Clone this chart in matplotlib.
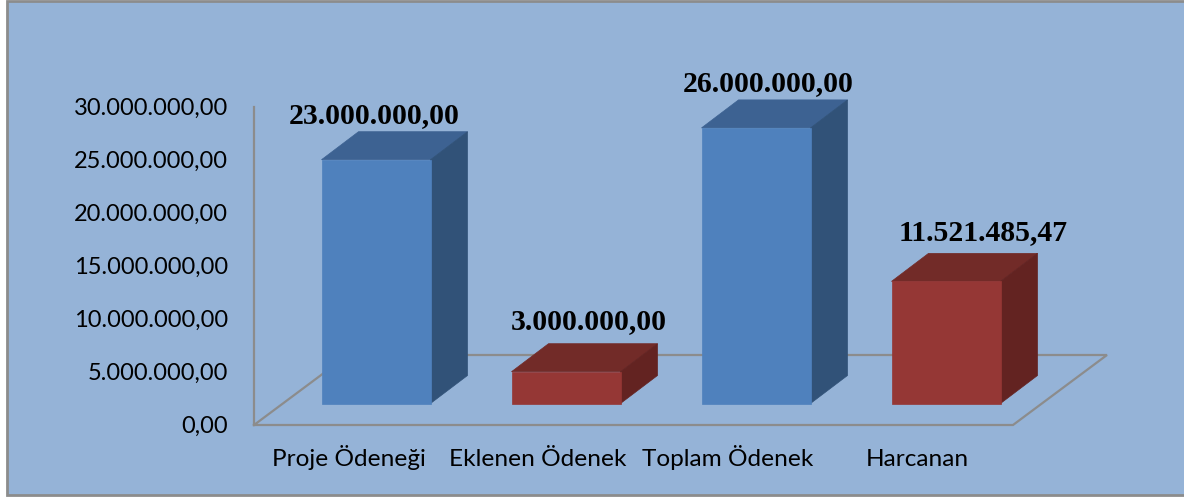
import matplotlib
matplotlib.use('Agg')
import matplotlib.pyplot as plt
from matplotlib.patches import Polygon, Rectangle

# Data
categories = ['Proje Ödeneği', 'Eklenen Ödenek', 'Toplam Ödenek', 'Harcanan']
values = [23000000.00, 3000000.00, 26000000.00, 11521485.47]
value_labels = ['23.000.000,00', '3.000.000,00', '26.000.000,00', '11.521.485,47']
y_ticks = [0, 5000000, 10000000, 15000000, 20000000, 25000000, 30000000]
y_tick_labels = ['0,00', '5.000.000,00', '10.000.000,00', '15.000.000,00',
                 '20.000.000,00', '25.000.000,00', '30.000.000,00']

# Colours
background = '#95B3D7'
axis_grey = '#8C8C8C'
blue = ('#4F81BD', '#3D6292', '#315278')
red = ('#953735', '#722B28', '#632321')
bar_colors = [blue, red, blue, red]

# Pixel layout of the figure
W, H = 1184, 497
y0_px, y30_px = 425, 107
x0_px, step_px = 376, 190
yk = 30000000 / (y0_px - y30_px)  # value per pixel
xk = 1 / step_px

fig = plt.figure(figsize=(W / 100, H / 100), dpi=100, facecolor='white')
ax = fig.add_axes([0, 0, 1, 1])
ax.set_xlim(-x0_px * xk, (W - x0_px) * xk)
ax.set_ylim(-(H - y0_px) * yk, y0_px * yk)
ax.axis('off')

dx_px = lambda p: p * xk
dy_px = lambda p: p * yk

# Chart area with its grey frame (right edge runs off the picture)
left, right = dx_px(6.5 - x0_px), dx_px(1187 - x0_px)
bottom, top = dy_px(y0_px - 494.5), dy_px(y0_px - 1)
ax.add_patch(Rectangle((left, bottom), right - left, top - bottom, facecolor=background,
                       edgecolor=axis_grey, linewidth=2, zorder=0))

# Floor and value axis
fl = dx_px(254 - x0_px)
fr = dx_px(1013 - x0_px)
floor_dx, floor_dy = dx_px(94), dy_px(70)
ax.plot([fl, fl + floor_dx, fr + floor_dx, fr, fl], [0, floor_dy, floor_dy, 0, 0],
        color=axis_grey, lw=1.6, zorder=1, solid_joinstyle='miter')
ax.plot([fl, fl], [0, 30000000], color=axis_grey, lw=1.6, zorder=1)

# 3D bars
half = dx_px(54.5)
base = dy_px(21.5)
depth_x, depth_y = dx_px(37), dy_px(28)
label_x = [374, 589, 768.5, 983]
label_base = [123, 329, 91, 240]
for i, v in enumerate(values):
    front, upper, side = bar_colors[i]
    x1, x2 = i - half, i + half
    y1, y2 = base, base + v
    ax.add_patch(Polygon([(x1, y2), (x2, y2), (x2 + depth_x, y2 + depth_y), (x1 + depth_x, y2 + depth_y)],
                         facecolor=upper, edgecolor=upper, lw=0.5, zorder=3))
    ax.add_patch(Polygon([(x2, y1), (x2 + depth_x, y1 + depth_y), (x2 + depth_x, y2 + depth_y), (x2, y2)],
                         facecolor=side, edgecolor=side, lw=0.5, zorder=3))
    ax.add_patch(Rectangle((x1, y1), x2 - x1, v, facecolor=front, edgecolor=front, lw=0.5, zorder=4))
    ax.text(dx_px(label_x[i] - x0_px), dy_px(y0_px - label_base[i]), value_labels[i], ha='center', va='baseline',
            family='Liberation Serif', weight='bold', fontsize=21.4, color='black', zorder=5)

# Tick labels
for t, lab in zip(y_ticks, y_tick_labels):
    ax.text(dx_px(228 - x0_px), t - dy_px(8), lab, ha='right', va='baseline', family='Lato', fontsize=17, color='black')

cat_x = [349, 538, 728, 917]
for x, lab in zip(cat_x, categories):
    ax.text(dx_px(x - x0_px), dy_px(y0_px - 466), lab, ha='center', va='baseline', family='Lato',
            fontsize=17.6, color='black')

fig.savefig('out.png', dpi=100, facecolor='white')
